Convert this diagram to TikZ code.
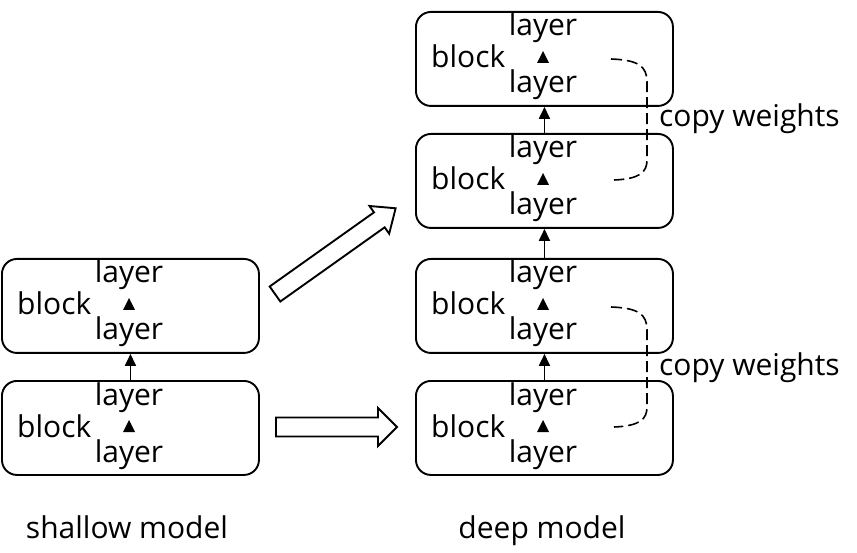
\documentclass[tikz,border=0pt]{standalone}
\usepackage{fontspec}
\setmainfont{Open Sans}
\usetikzlibrary{arrows.meta}
\begin{document}
\begin{tikzpicture}[x=1pt,y=-1pt,
  font=\fontsize{30}{35}\selectfont,
  box/.style={draw, line width=1.9pt, rounded corners=15pt, minimum width=257pt, minimum height=94pt, anchor=north west, inner sep=0pt},
  txt/.style={inner sep=0pt, anchor=base},
  link/.style={line width=1.8pt, -{Triangle[length=12pt,width=11pt]}},
  copyline/.style={line width=1.6pt, dash pattern=on 11pt off 5pt},
  bigarrow/.style={draw, line width=1.9pt, fill=white, line join=miter}
]
\useasboundingbox (0,0) rectangle (857,553);

% blocks: name / left x / top y
\foreach \n/\L/\T in {s1/1/380, s2/1/258, d1/415/380, d2/415/258, d3/415/133, d4/415/11}{
  \node[box] (\n) at (\L,\T) {};
  \node[txt] (\n-up) at (\L+128,\T+25) {layer};
  \node[txt] (\n-lo) at (\L+128,\T+82) {layer};
  \node[txt, anchor=base west] (\n-bl) at (\L+16,\T+57) {block};
  \fill (\L+122,\T+52) -- (\L+134,\T+52) -- (\L+128,\T+40) -- cycle;
}

% connectors between blocks
\draw[link] (s1.north) -- (s2.south);
\draw[link] (d1.north) -- (d2.south);
\draw[link] (d2.north) -- (d3.south);
\draw[link] (d3.north) -- (d4.south);

% copy weights (dashed)
\coordinate (a1) at (611,59);
\coordinate (a2) at (614,180);
\draw[copyline] (a1) .. controls (638,60) and (647,66) .. (647,82) -- (647,160)
  .. controls (647,172) and (640,179) .. (a2);
\coordinate (b1) at (611,307);
\coordinate (b2) at (614,427);
\draw[copyline] (b1) .. controls (638,308) and (647,314) .. (647,330) -- (647,407)
  .. controls (647,419) and (640,426) .. (b2);
\node[txt, anchor=base west] (cw1) at (659,127) {copy weights};
\node[txt, anchor=base west] (cw2) at (659,375) {copy weights};

% big hollow arrows
\begin{scope}[shift={(276,427)}]
  \draw[bigarrow] (0,-9.5) -- (102,-9.5) -- (102,-19) -- (121,0) -- (102,19) -- (102,9.5) -- (0,9.5) -- cycle;
\end{scope}
\begin{scope}[shift={(275,294)}, rotate=35.4]
  \draw[bigarrow] (0,-9.2) -- (128,-9.2) -- (128,-17) -- (148,0) -- (128,17) -- (128,9.2) -- (0,9.2) -- cycle;
\end{scope}

% captions
\node[txt] (cap1) at (127,538) {shallow model};
\node[txt] (cap2) at (542,538) {deep model};
\end{tikzpicture}
\end{document}
